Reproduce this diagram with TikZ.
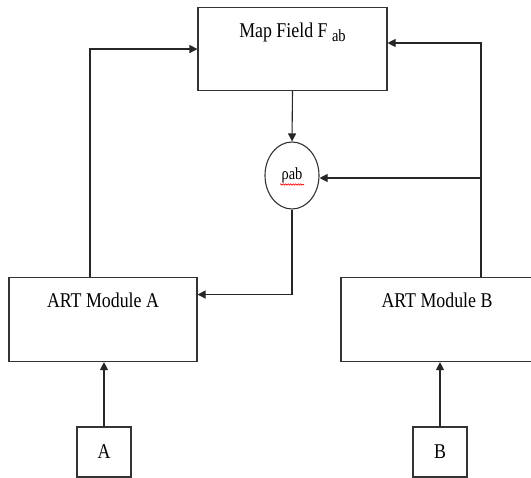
\documentclass[tikz,border=0pt]{standalone}
\usepackage{fontspec}
\setmainfont[FakeStretch=0.85]{Liberation Serif}
\usetikzlibrary{arrows.meta,shapes.geometric,decorations.pathmorphing}

\begin{document}
\begin{tikzpicture}[x=1pt, y=-1pt,
    box/.style={draw=black!80, line width=1.1pt, inner sep=0pt,
        font=\fontsize{21pt}{24pt}\selectfont},
    arrow/.style={draw=black!85, line width=1.1pt,
        -{Triangle[length=8pt,width=8pt]}}]

\useasboundingbox (0,0) rectangle (531,478);

% Map field and vigilance node
\node[box, anchor=north, minimum width=189pt, text height=30pt, text depth=53pt]
    (mapfield) at (292.5,7)
    {Map Field F {\fontsize{17pt}{17pt}\selectfont\raisebox{-4pt}{ab}}};
\node[box, ellipse, minimum width=54pt, minimum height=67pt,
    font=\fontsize{17pt}{19pt}\selectfont] (rho) at (292,175.5) {ρab};
\draw[red, line width=0.6pt, decorate,
    decoration={snake, segment length=2.5pt, amplitude=0.7pt}]
    ([xshift=-12pt,yshift=-9pt]rho.center) -- ([xshift=12pt,yshift=-9pt]rho.center);

% ART modules
\node[box, anchor=north, minimum width=188pt, text height=30pt, text depth=54pt]
    (artA) at (103,277) {ART Module A};
\node[box, anchor=north, minimum width=192pt, text height=30pt, text depth=54pt]
    (artB) at (437,277) {ART Module B};

% Inputs
\node[box, minimum width=54pt, minimum height=50pt] (inA) at (104,452) {A};
\node[box, minimum width=54pt, minimum height=50pt] (inB) at (440,452) {B};

% Right-hand trunk
\coordinate (bend) at (481,43);
\coordinate (tap) at (481,178);

% Connections
\draw[arrow] (inA.north) -- (inA.north |- artA.south);
\draw[arrow] (inB.north) -- (inB.north |- artB.south);
\draw[arrow] ([xshift=-13pt]artA.north) |- (mapfield.west);
\draw[arrow] (artB.north -| bend) -- (bend) -- (bend -| mapfield.east);
\draw[arrow] (tap) -- (tap -| rho.east);
\draw[arrow] (mapfield.south) -- (rho.north);
\draw[arrow] (rho.south) |- ([yshift=25pt]artA.east);

\end{tikzpicture}
\end{document}
